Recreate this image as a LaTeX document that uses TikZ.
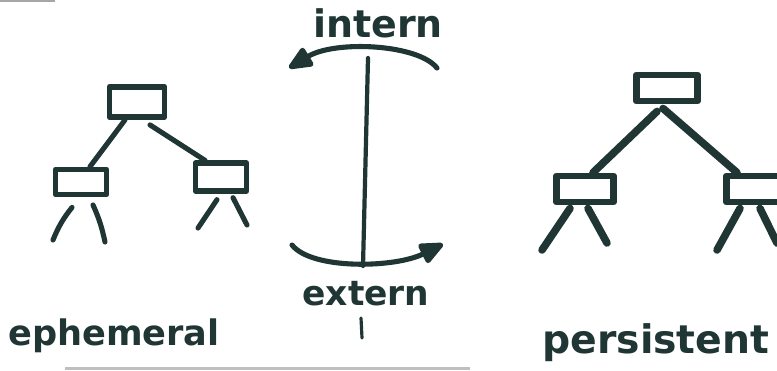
\documentclass[tikz,border=0pt]{standalone}
\usepackage{fontspec}
\setmainfont{DejaVu Sans}
\usetikzlibrary{arrows.meta}
\definecolor{ink}{HTML}{1F3634}
\begin{document}
\begin{tikzpicture}[x=0.02cm,y=-0.02cm,
  line cap=round, line join=round,
  lbox/.style={draw=ink, line width=3.3pt, inner sep=0pt, fill=white},
  rbox/.style={draw=ink, line width=3.9pt, inner sep=0pt, fill=white},
  ledge/.style={draw=ink, line width=2.9pt},
  redge/.style={draw=ink, line width=4.3pt},
  arcline/.style={draw=ink, line width=2.9pt},
  label/.style={text=ink, inner sep=0pt}]
\useasboundingbox (0,0) rectangle (777,370);
\clip (0,0) rectangle (777,370);
\fill[white] (0,0) rectangle (777,370);
% scan edges
\fill[gray!70] (0,0) rectangle (55,2);
\fill[gray!50] (65,367) rectangle (470,370);

% ---------- ephemeral tree ----------
\node[lbox, minimum width=1.1cm, minimum height=0.6cm] (lroot) at (137,102) {};
\node[lbox, minimum width=1.02cm, minimum height=0.5cm] (lleft) at (81,182) {};
\node[lbox, minimum width=1.02cm, minimum height=0.55cm] (lright) at (221,177) {};
\draw[ledge] ([xshift=-0.24cm]lroot.south) -- ([xshift=0.18cm]lleft.north);
\draw[ledge] ([xshift=0.26cm,yshift=-0.1cm]lroot.south) -- ([xshift=-0.32cm]lright.north);
\coordinate (ll1) at (53,240);
\coordinate (ll2) at (105,242);
\coordinate (lr1) at (198,228);
\coordinate (lr2) at (247,225);
\draw[ledge] ([xshift=-0.18cm,yshift=-0.2cm]lleft.south) to[bend right=8] (ll1);
\draw[ledge] ([xshift=0.24cm,yshift=-0.15cm]lleft.south) to[bend left=6] (ll2);
\draw[ledge] ([xshift=-0.08cm,yshift=-0.12cm]lright.south) -- (lr1);
\draw[ledge] ([xshift=0.24cm,yshift=-0.08cm]lright.south) -- (lr2);

% ---------- persistent tree ----------
\node[rbox, minimum width=1.22cm, minimum height=0.52cm] (rroot) at (667,88) {};
\node[rbox, minimum width=1.14cm, minimum height=0.52cm] (rleft) at (585,189) {};
\node[rbox, minimum width=1.14cm, minimum height=0.52cm] (rright) at (755,189) {};
\draw[redge] ([xshift=-0.2cm,yshift=-0.14cm]rroot.south) -- ([xshift=0.16cm]rleft.north);
\draw[redge] ([xshift=-0.08cm,yshift=-0.08cm]rroot.south) -- ([xshift=-0.36cm]rright.north);
\coordinate (rl1) at (542,250);
\coordinate (rl2) at (607,243);
\coordinate (rr1) at (717,250);
\coordinate (rr2) at (777,243);
\draw[redge] ([xshift=-0.3cm,yshift=-0.06cm]rleft.south) -- (rl1);
\draw[redge] ([xshift=0.06cm,yshift=-0.06cm]rleft.south) -- (rl2);
\draw[redge] ([xshift=-0.3cm,yshift=-0.06cm]rright.south) -- (rr1);
\draw[redge] ([xshift=0.1cm,yshift=-0.06cm]rright.south) -- (rr2);

% ---------- centre ----------
\coordinate (vtop) at (368,58);
\coordinate (vbot) at (363,266);
\draw[ink, line width=2.4pt] (vtop) -- (vbot);
\coordinate (tick1) at (361,318);
\coordinate (tick2) at (362,338);
\draw[ink, line width=1.8pt] (tick1) -- (tick2);

\coordinate (ias) at (437,68);
\coordinate (iae) at (289,68);
\draw[arcline, -{Triangle[length=0.55cm,width=0.45cm,round]}]
  (ias) .. controls (418,44) and (335,40) .. (iae);
\coordinate (eas) at (292,245);
\coordinate (eae) at (443,244);
\draw[arcline, -{Triangle[length=0.55cm,width=0.45cm,round]}]
  (eas) .. controls (312,270) and (395,268) .. (eae);

% ---------- labels ----------
\node[label, anchor=base, font=\bfseries\fontsize{21.6}{22}\selectfont] (intern) at (378,37) {intern};
\node[label, anchor=base, font=\bfseries\fontsize{19.6}{20}\selectfont] (extern) at (366,305) {extern};
\node[label, anchor=base west, font=\bfseries\fontsize{20}{20}\selectfont] (eph) at (8,345) {ephemeral};
\node[label, anchor=base west, font=\bfseries\fontsize{22.4}{22}\selectfont] (per) at (542,353) {persistent};
\end{tikzpicture}
\end{document}
